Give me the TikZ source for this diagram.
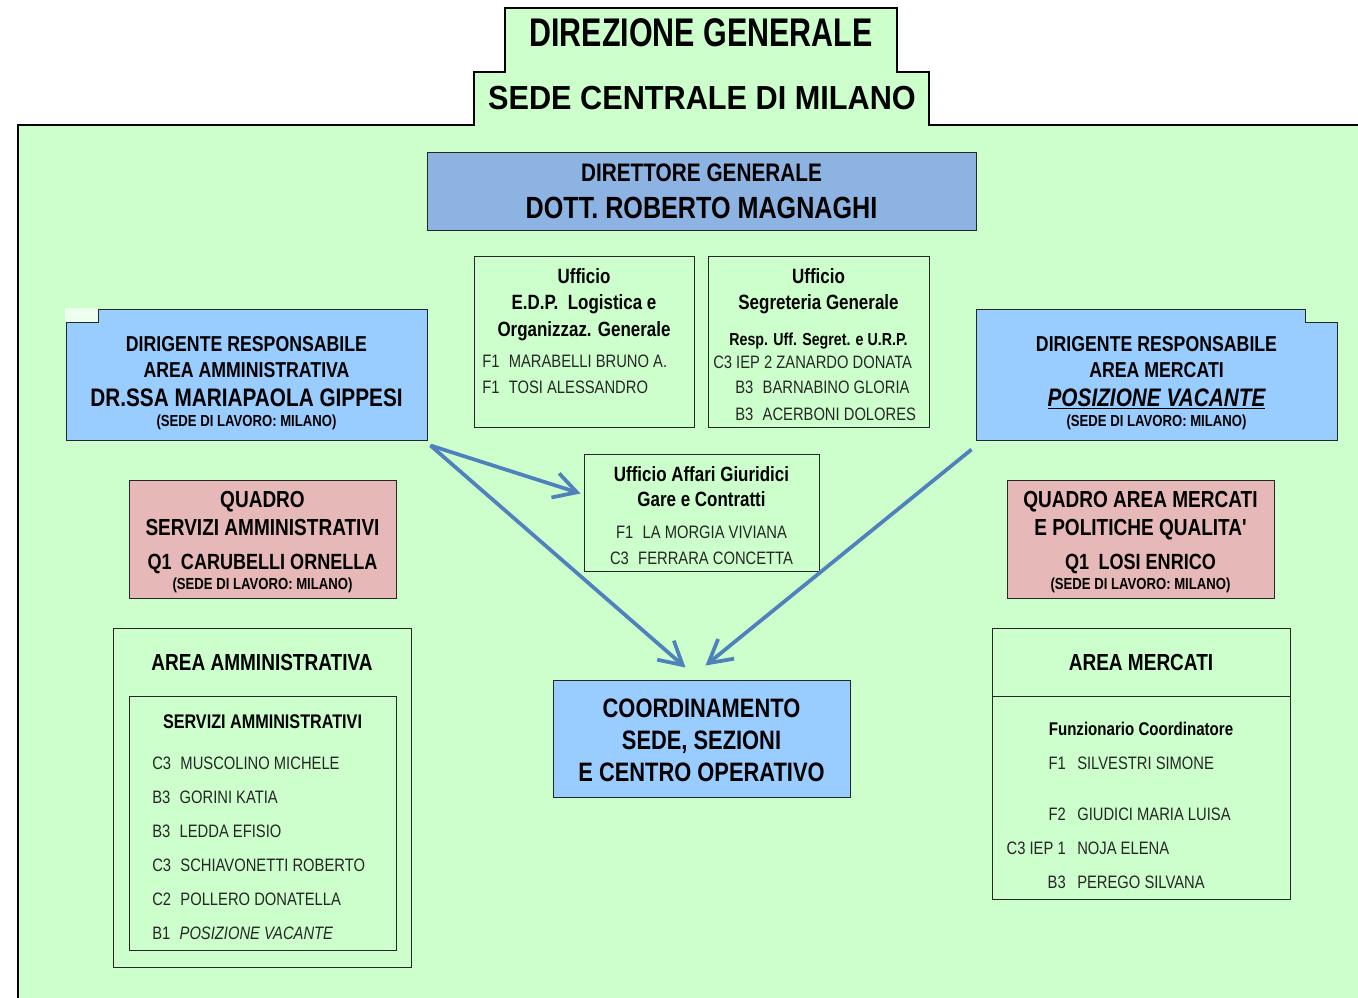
\documentclass[tikz,border=0pt]{standalone}
\usepackage{fontspec}
\setmainfont{Liberation Sans}[FakeStretch=0.82,Ligatures=TeXOff]
\newfontfamily\titlefont{Liberation Sans}[FakeStretch=0.76]
\newfontfamily\sedefont{Liberation Sans}[FakeStretch=0.92]
\usepackage{tikz}
\usetikzlibrary{arrows.meta,calc,fit}

\definecolor{panelgreen}{RGB}{204,255,204}
\definecolor{dgblue}{RGB}{141,179,226}
\definecolor{dirblue}{RGB}{153,204,255}
\definecolor{quadropink}{RGB}{230,185,184}
\definecolor{arrowblue}{RGB}{79,129,189}
\definecolor{namegray}{RGB}{38,38,38}
\newcommand{\fs}[1]{\fontsize{#1}{#1}\selectfont}
\newcommand{\gr}[2]{#1\hspace{7pt}#2}

\begin{document}
\begin{tikzpicture}[x=0.75pt,y=0.75pt,yscale=-1,xscale=1,
  box/.style={draw=black!85,line width=0.7pt,rectangle,inner sep=0pt},
  txt/.style={inner sep=0pt,anchor=base,text=black},
  hd/.style={txt,font=\bfseries\fs{15.5}},
  nm/.style={inner sep=0pt,anchor=base west,text=namegray,font=\fs{13.5}},
  link/.style={draw=arrowblue,line width=2.8pt,-{Straight Barb[length=17pt,width=19pt]}}]
    \path[use as bounding box] (0,0) rectangle (1358,998);

    %Panel and title steps
    \draw[fill=panelgreen,line width=0.9pt] (18,1010) -- (18,125) -- (474,125) -- (474,72) -- (505,72) -- (505,8) -- (897,8) -- (897,72) -- (929,72) -- (929,125) -- (1370,125) -- (1370,1010) -- cycle;
    \node[txt,font=\titlefont\bfseries\fs{30}] (dirgen) at (701,47) {DIREZIONE GENERALE};
    \node[txt,font=\sedefont\bfseries\fs{25}] (sede) at (702,110) {SEDE CENTRALE DI MILANO};

    %Boxes
    \node[box,fill=dgblue,fit={(427,152)(976,230)}] (dg) {};
    \node[box,fit={(474,256)(694,427)}] (edp) {};
    \node[box,fit={(708,256)(929,427)}] (segr) {};
    \node[box,fill=dirblue,fit={(66,309)(427,440)}] (dirL) {};
    \node[box,fill=dirblue,fit={(976,309)(1337,440)}] (dirR) {};
    \node[box,fill=quadropink,fit={(129,480)(396,598)}] (quadL) {};
    \node[box,fill=quadropink,fit={(1007,480)(1274,598)}] (quadR) {};
    \node[box,fit={(584,454)(819,571)}] (aff) {};
    \node[box,fill=dirblue,fit={(553,680)(850,797)}] (coord) {};
    \node[box,fit={(113,628)(411,967)}] (amm) {};
    \node[box,fit={(129,696)(396,950)}] (servamm) {};
    \node[box,fit={(992,628)(1290,899)}] (merc) {};
    \draw[black!85,line width=0.7pt] (992,696) -- (1290,696);

    %Notches
    \fill[panelgreen!35!white] (65,308) rectangle (98,322);
    \draw[black!85,line width=0.7pt] (66,322) -- (98,322) -- (98,309);
    \fill[panelgreen] (1305,308) rectangle (1338,322);
    \draw[black!85,line width=0.7pt] (1305,309) -- (1305,322) -- (1337,322);

    %Arrows
    \coordinate (srcL) at ($(dirL.south east)+(3,5)$);
    \coordinate (srcR) at ($(dirR.south west)+(-4,9)$);
    \coordinate (affIn) at ($(aff.west)+(-3,-19)$);
    \coordinate (coordInL) at ($(coord.north)+(-16,-12)$);
    \coordinate (coordInR) at ($(coord.north)+(4,-14)$);
    \draw[link] (srcL) -- (affIn);
    \draw[link] (srcL) -- (coordInL);
    \draw[link] (srcR) -- (coordInR);

    % Text Node
    \node[txt,font=\bfseries\fs{19}] (dgA) at (701.5,182) {DIRETTORE GENERALE};
    \node[txt,font=\bfseries\fs{23}] (dgB) at (701.5,219) {DOTT. ROBERTO MAGNAGHI};

    % Text Node
    \node[hd] (edpA) at (584,284) {Ufficio};
    \node[hd] (edpB) at (584,310) {E.D.P.\ \ Logistica e};
    \node[hd] (edpC) at (584,336) {Organizzaz. Generale};
    \node[nm] (edpN1) at (482,367) {\gr{F1}{MARABELLI BRUNO A.}};
    \node[nm] (edpN2) at (482,393) {\gr{F1}{TOSI ALESSANDRO}};

    % Text Node
    \node[hd] (segrA) at (818.5,284) {Ufficio};
    \node[hd] (segrB) at (818.5,310) {Segreteria Generale};
    \node[txt,font=\bfseries\fs{13}] (segrC) at (818.5,345) {Resp. Uff. Segret. e U.R.P.};
    \node[nm] (segrN1) at (713,368) {C3 IEP 2 ZANARDO DONATA};
    \node[nm] (segrN2) at (735,393) {\gr{B3}{BARNABINO GLORIA}};
    \node[nm] (segrN3) at (735,420) {\gr{B3}{ACERBONI DOLORES}};

    % Text Node
    \node[txt,font=\bfseries\fs{16.2}] (dirLA) at (246.5,351) {DIRIGENTE RESPONSABILE};
    \node[txt,font=\bfseries\fs{16.2}] (dirLB) at (246.5,377) {AREA AMMINISTRATIVA};
    \node[txt,font=\bfseries\fs{19}] (dirLC) at (246.5,406) {DR.SSA MARIAPAOLA GIPPESI};
    \node[txt,font=\bfseries\fs{12}] (dirLD) at (246.5,426) {(SEDE DI LAVORO: MILANO)};

    % Text Node
    \node[txt,font=\bfseries\fs{16.2}] (dirRA) at (1156.5,351) {DIRIGENTE RESPONSABILE};
    \node[txt,font=\bfseries\fs{16.2}] (dirRB) at (1156.5,377) {AREA MERCATI};
    \node[txt,font=\bfseries\itshape\fs{19}] (dirRC) at (1156.5,406) {\underline{POSIZIONE VACANTE}};
    \node[txt,font=\bfseries\fs{12}] (dirRD) at (1156.5,426) {(SEDE DI LAVORO: MILANO)};

    % Text Node
    \node[txt,font=\bfseries\fs{17.4}] (quadLA) at (262.5,507) {QUADRO};
    \node[txt,font=\bfseries\fs{17.4}] (quadLB) at (262.5,535) {SERVIZI AMMINISTRATIVI};
    \node[txt,font=\bfseries\fs{16.5}] (quadLC) at (262.5,569) {Q1\hspace{7pt}CARUBELLI ORNELLA};
    \node[txt,font=\bfseries\fs{12}] (quadLD) at (262.5,589) {(SEDE DI LAVORO: MILANO)};

    % Text Node
    \node[txt,font=\bfseries\fs{17.4}] (quadRA) at (1140.5,507) {QUADRO AREA MERCATI};
    \node[txt,font=\bfseries\fs{17.4}] (quadRB) at (1140.5,535) {E POLITICHE QUALITA'};
    \node[txt,font=\bfseries\fs{16.5}] (quadRC) at (1140.5,569) {Q1\hspace{7pt}LOSI ENRICO};
    \node[txt,font=\bfseries\fs{12}] (quadRD) at (1140.5,589) {(SEDE DI LAVORO: MILANO)};

    % Text Node
    \node[hd] (affA) at (701.5,481) {Ufficio Affari Giuridici};
    \node[hd] (affB) at (701.5,506) {Gare e Contratti};
    \node[txt,text=namegray,font=\fs{13.5}] (affN1) at (701.5,538) {\gr{F1}{LA MORGIA VIVIANA}};
    \node[txt,text=namegray,font=\fs{13.5}] (affN2) at (701.5,564) {\gr{C3}{FERRARA CONCETTA}};

    % Text Node
    \node[txt,font=\bfseries\fs{20}] (coordA) at (701.5,717) {COORDINAMENTO};
    \node[txt,font=\bfseries\fs{20}] (coordB) at (701.5,749) {SEDE, SEZIONI};
    \node[txt,font=\bfseries\fs{20}] (coordC) at (701.5,781) {E CENTRO OPERATIVO};

    % Text Node
    \node[txt,font=\bfseries\fs{17.4}] (ammA) at (262,670) {AREA AMMINISTRATIVA};
    \node[txt,font=\bfseries\fs{14.8}] (servA) at (262.5,728) {SERVIZI AMMINISTRATIVI};
    \foreach \g/\n [count=\i from 0] in {C3/MUSCOLINO MICHELE, B3/GORINI KATIA, B3/LEDDA EFISIO, C3/SCHIAVONETTI ROBERTO, C2/POLLERO DONATELLA, B1/{\itshape POSIZIONE VACANTE}}
        \node[nm] (serv\i) at (152,769+34*\i) {\gr{\g}{\n}};

    % Text Node
    \node[txt,font=\bfseries\fs{17.4}] (mercA) at (1141,670) {AREA MERCATI};
    \node[txt,font=\bfseries\fs{13.8}] (mercB) at (1141,735) {Funzionario Coordinatore};
    \foreach \g/\n/\y [count=\i] in {F1/SILVESTRI SIMONE/769, F2/GIUDICI MARIA LUISA/820, C3 IEP 1/NOJA ELENA/854, B3/PEREGO SILVANA/888} {
        \node[nm,anchor=base east] (mercG\i) at (1066,\y) {\g};
        \node[nm] (mercN\i) at (1077,\y) {\n};
    }

\end{tikzpicture}
\end{document}
